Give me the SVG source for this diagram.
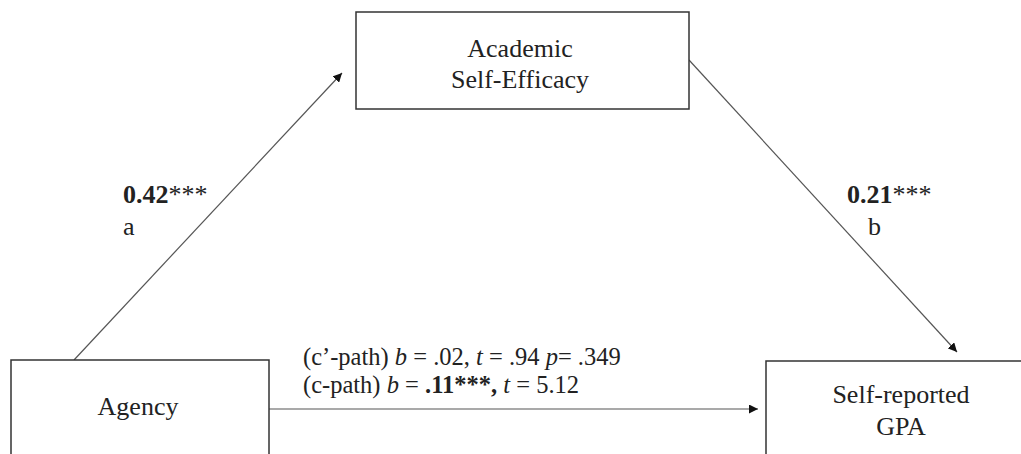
<svg xmlns="http://www.w3.org/2000/svg" width="1021" height="454" viewBox="0 0 1021 454">
<style>
  .box { fill: #fff; stroke: #333; stroke-width: 1.5; }
  .t { font-family: "Liberation Serif", "Times New Roman", serif; font-size: 26px; fill: #222; }
  .lbl { font-family: "Liberation Serif", "Times New Roman", serif; font-size: 24.5px; fill: #222; }
  .edge { stroke: #555; stroke-width: 1.2; fill: none; marker-end: url(#arr); }
</style>
<defs>
  <marker id="arr" viewBox="0 0 10 10" refX="10" refY="5" markerWidth="9" markerHeight="9" markerUnits="userSpaceOnUse" orient="auto">
    <path d="M0,0 L10,5 L0,10 z" fill="#111"/>
  </marker>
</defs>
<rect width="1021" height="454" fill="#fff"/>
<g id="connectors">
  <line class="edge" x1="74" y1="360" x2="342" y2="73"/>
  <line class="edge" x1="689" y1="60" x2="957" y2="352"/>
  <line class="edge" x1="269" y1="409" x2="758" y2="409"/>
</g>
<g id="node-ase">
  <rect class="box" x="356" y="12" width="333" height="97"/>
  <text class="t" x="520" y="57" text-anchor="middle">Academic</text>
  <text class="t" x="520" y="88" text-anchor="middle">Self-Efficacy</text>
</g>
<g id="node-agency">
  <rect class="box" x="11" y="360" width="258" height="110"/>
  <text class="t" x="138" y="415" text-anchor="middle">Agency</text>
</g>
<g id="node-gpa">
  <rect class="box" x="766" y="361" width="280" height="110"/>
  <text class="t" x="901" y="403" text-anchor="middle">Self-reported</text>
  <text class="t" x="901" y="435" text-anchor="middle">GPA</text>
</g>
<g id="labels">
  <text class="t" x="123" y="203"><tspan font-weight="bold">0.42</tspan>***</text>
  <text class="t" x="123" y="235">a</text>
  <text class="t" x="847" y="203"><tspan font-weight="bold">0.21</tspan>***</text>
  <text class="t" x="868" y="235">b</text>
  <text class="lbl" x="303" y="365">(c’-path) <tspan font-style="italic">b</tspan> = .02, <tspan font-style="italic">t</tspan> = .94 <tspan font-style="italic">p</tspan>= .349</text>
  <text class="lbl" x="303" y="393">(c-path) <tspan font-style="italic">b</tspan> = <tspan font-weight="bold">.11***,</tspan> <tspan font-style="italic">t</tspan> = 5.12</text>
</g>
</svg>
